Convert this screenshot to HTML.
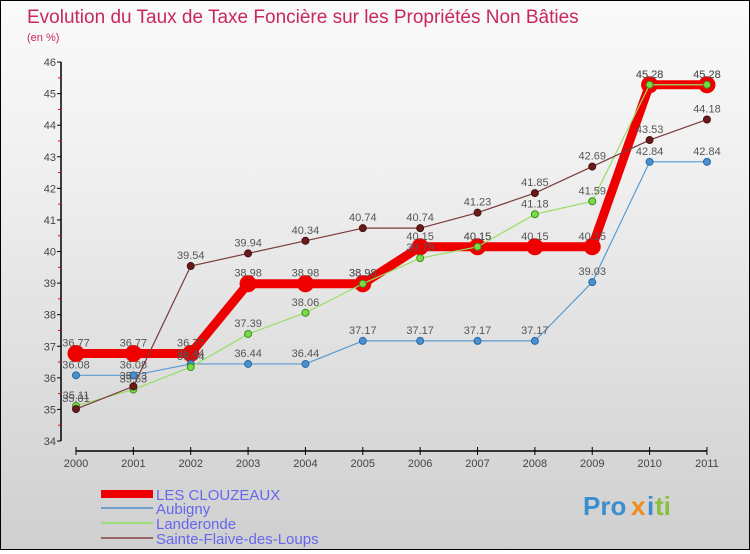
<!DOCTYPE html>
<html><head><meta charset="utf-8"><style>
html,body{margin:0;padding:0}
body{width:750px;height:550px;overflow:hidden;font-family:"Liberation Sans",sans-serif}
#c{position:relative;width:748px;height:548px;border:1px solid #000;background:linear-gradient(#fafafa,#f0f0f0 30%,#cfcfcf)}
</style></head><body>
<div id="c">
<svg id="s" width="748" height="548" xmlns="http://www.w3.org/2000/svg">
<text x="26" y="22" font-size="19" fill="#c8285a">Evolution du Taux de Taxe Foncière sur les Propriétés Non Bâties</text>
<text x="26" y="40" font-size="11" fill="#c8285a">(en %)</text>
<g id="axes"></g><g id="series"></g>
<g>
<rect x="100" y="489" width="52" height="8" fill="#e00"/>
<text x="155" y="499" font-size="15" fill="#6666ee">LES CLOUZEAUX</text>
<rect x="100" y="506" width="52" height="2" fill="#6fa0cc"/>
<text x="155" y="513" font-size="15" fill="#6666ee">Aubigny</text>
<rect x="100" y="521" width="52" height="2" fill="#99dd77"/>
<text x="155" y="528" font-size="15" fill="#6666ee">Landeronde</text>
<rect x="100" y="536" width="52" height="2" fill="#996666"/>
<text x="155" y="543" font-size="15" fill="#6666ee">Sainte-Flaive-des-Loups</text>
</g>
<g font-size="26" font-weight="bold">
<text x="582" y="514" fill="#3a8fd0">Pro</text><text x="630" y="514" fill="#f08a1a">x</text><text x="646" y="514" fill="#3a8fd0">i</text><text x="654" y="514" fill="#88c040">ti</text>
</g>
</svg></div>
<script>
const years=[2000,2001,2002,2003,2004,2005,2006,2007,2008,2009,2010,2011];
const yTicks=[34,35,36,37,38,39,40,41,42,43,44,45,46];
const clouzeaux=[36.77,36.77,36.77,38.98,38.98,38.98,40.15,40.15,40.15,40.15,45.28,45.28];
const aubigny=[36.08,36.08,36.44,36.44,36.44,37.17,37.17,37.17,37.17,39.03,42.84,42.84];
const landeronde=[35.11,35.63,36.34,37.39,38.06,38.98,39.79,40.15,41.18,41.59,45.28,45.28];
const sainteFlaive=[35.01,35.73,39.54,39.94,40.34,40.74,40.74,41.23,41.85,42.69,43.53,44.18];
const NS='http://www.w3.org/2000/svg';
const xs=i=>75+i*57.36;
const ys=v=>440-(v-34)*31.58;
function mk(tag,attrs,parent){const e=document.createElementNS(NS,tag);for(const k in attrs)e.setAttribute(k,attrs[k]);parent.appendChild(e);return e;}
const ax=document.getElementById('axes'),sg=document.getElementById('series');
let yl=mk('line',{x1:60,y1:ys(46),x2:60,y2:ys(34),stroke:'#000','stroke-width':1.5},ax);


yTicks.forEach((t,i)=>{
 mk('line',{x1:56,y1:ys(t),x2:60,y2:ys(t),stroke:'#000'},ax);
 if(i<yTicks.length-1)mk('line',{x1:57,y1:ys(t+0.5),x2:60,y2:ys(t+0.5),stroke:'#e00'},ax);
 const tx=mk('text',{x:55,y:ys(t)+4,'font-size':11,fill:'#444','text-anchor':'end'},ax);
 tx.textContent=t;
 
 
});
let xl=mk('line',{x1:xs(0),y1:450,x2:xs(11),y2:450,stroke:'#000','stroke-width':1.5},ax);


years.forEach((y,i)=>{
 mk('line',{x1:xs(i),y1:446,x2:xs(i),y2:454,stroke:'#000'},ax);
 const tx=mk('text',{x:xs(i),y:466,'font-size':11,fill:'#444','text-anchor':'middle'},ax);
 tx.textContent=y;
 
 
});
function series(data,color,w,r,name,dot,stroke){
 const g=mk('g',{},sg);
 
 
 const p=mk('polyline',{points:data.map((v,i)=>xs(i)+','+ys(v)).join(' '),fill:'none',stroke:color,'stroke-width':w,'stroke-linejoin':'round'},g);
 
 
 data.forEach((v,i)=>{
  const c=mk('circle',{cx:xs(i),cy:ys(v),r:r,fill:dot,stroke:stroke,'stroke-width':1},g);
  
  
  const t=mk('text',{x:xs(i),y:ys(v)-7,'font-size':11,fill:'#555','text-anchor':'middle'},g);
  t.textContent=v.toFixed(2);
  
  
 });
}
series(clouzeaux,'#ee0000',9,8,'les-clouzeaux','#ee0000','#ee0000');
series(aubigny,'#5a9ad0',1.2,3.5,'aubigny','#4a90d0','#2a6aa0');
series(landeronde,'#99dd66',1.2,3.5,'landeronde','#77dd44','#448822');
series(sainteFlaive,'#7a3a3a',1.2,3.5,'sainte-flaive','#6a1a1a','#441111');
</script>
</body></html>
